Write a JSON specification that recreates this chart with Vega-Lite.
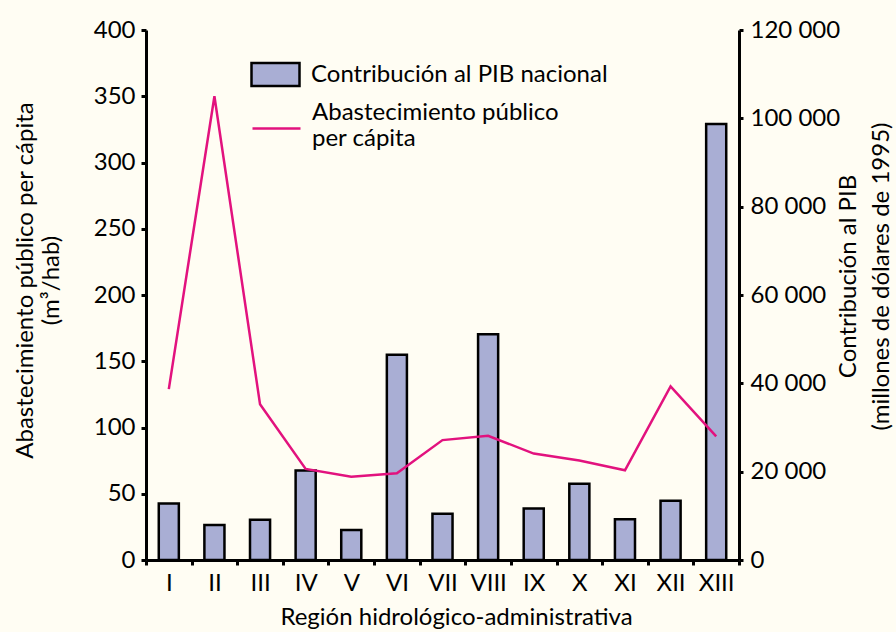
{
  "$schema": "https://vega.github.io/schema/vega-lite/v6.json",
  "width": 593,
  "height": 530,
  "autosize": {"type": "none"},
  "padding": {"left": 146, "top": 30, "right": 157, "bottom": 72},
  "background": "#FFFDF3",
  "data": {
    "values": [
      {"region": "I", "pib": 12800, "abast": 129},
      {"region": "II", "pib": 7900, "abast": 350},
      {"region": "III", "pib": 9100, "abast": 117.5},
      {"region": "IV", "pib": 20250, "abast": 68.7},
      {"region": "V", "pib": 6800, "abast": 62.9},
      {"region": "VI", "pib": 46500, "abast": 65.4},
      {"region": "VII", "pib": 10450, "abast": 90.5},
      {"region": "VIII", "pib": 51100, "abast": 93.8},
      {"region": "IX", "pib": 11650, "abast": 80.3},
      {"region": "X", "pib": 17250, "abast": 75.1},
      {"region": "XI", "pib": 9200, "abast": 67.7},
      {"region": "XII", "pib": 13400, "abast": 131},
      {"region": "XIII", "pib": 98700, "abast": 93.3}
    ]
  },
  "encoding": {
    "x": {
      "field": "region",
      "type": "ordinal",
      "sort": null,
      "scale": {"paddingInner": 0, "paddingOuter": 0},
      "axis": {
        "title": "Región hidrológico-administrativa",
        "labelAngle": 0,
        "tickBand": "extent",
        "tickSize": 5,
        "labelPadding": 6,
        "titlePadding": 10,
        "titleFontSize": 24,
        "titleX": 310
      }
    }
  },
  "layer": [
    {
      "mark": {"type": "bar", "stroke": "#000000", "strokeWidth": 2.5, "width": {"band": 0.44}},
      "encoding": {
        "y": {
          "field": "pib",
          "type": "quantitative",
          "scale": {"domain": [0, 120000], "nice": false},
          "axis": {
            "orient": "right",
            "title": ["Contribución al PIB", "(millones de dólares de 1995)"],
            "titleAngle": -90,
            "titleFontSize": 24,
            "titleLineHeight": 33,
            "values": [0, 20000, 40000, 60000, 80000, 100000, 120000],
            "labelExpr": "replace(format(datum.value, ','), ',', ' ')",
            "tickSize": 4,
            "labelPadding": 7,
            "titlePadding": -12,
            "titleY": 246
          }
        },
        "fill": {
          "datum": "Contribución al PIB nacional",
          "type": "nominal",
          "scale": {"range": ["#A9AED4"]},
          "legend": {
            "orient": "none",
            "legendX": 104,
            "legendY": 19,
            "title": null,
            "symbolType": "M-1,-0.48H1V0.48H-1Z",
            "symbolSize": 2304,
            "symbolStrokeColor": "#000000",
            "symbolStrokeWidth": 2.5,
            "symbolFillColor": "#A9AED4",
            "symbolOpacity": 1,
            "labelOffset": 10
          }
        }
      }
    },
    {
      "mark": {"type": "line", "strokeWidth": 2.5},
      "encoding": {
        "y": {
          "field": "abast",
          "type": "quantitative",
          "scale": {"domain": [0, 400], "nice": false},
          "axis": {
            "orient": "left",
            "title": ["Abastecimiento público per cápita", "(m³/hab)"],
            "titleFontSize": 24,
            "values": [0, 50, 100, 150, 200, 250, 300, 350, 400],
            "tickSize": 5,
            "labelPadding": 6,
            "titlePadding": 30,
            "titleY": 250
          }
        },
        "stroke": {
          "datum": "Abastecimiento público per cápita",
          "type": "nominal",
          "scale": {"range": ["#E2127E"]},
          "legend": {
            "orient": "none",
            "legendX": 105,
            "legendY": 57,
            "title": null,
            "symbolType": "M-1,0.67H1",
            "symbolSize": 2304,
            "symbolStrokeWidth": 2.5,
            "symbolFillColor": "transparent",
            "labelOffset": 10,
            "labelExpr": "['Abastecimiento público', 'per cápita']"
          }
        }
      }
    }
  ],
  "resolve": {"scale": {"y": "independent"}},
  "config": {
    "font": "Lato",
    "view": {"stroke": null},
    "axis": {
      "grid": false,
      "domainColor": "#000000",
      "domainWidth": 3,
      "tickColor": "#000000",
      "tickWidth": 3,
      "labelColor": "#000000",
      "labelFontSize": 24,
      "labelFont": "Lato",
      "titleColor": "#000000",
      "titleFontSize": 22,
      "titleFontWeight": "normal",
      "titleFont": "Lato"
    },
    "legend": {
      "labelFontSize": 24,
      "labelColor": "#000000",
      "labelFont": "Lato",
      "padding": 0,
      "labelLimit": 400
    }
  }
}
